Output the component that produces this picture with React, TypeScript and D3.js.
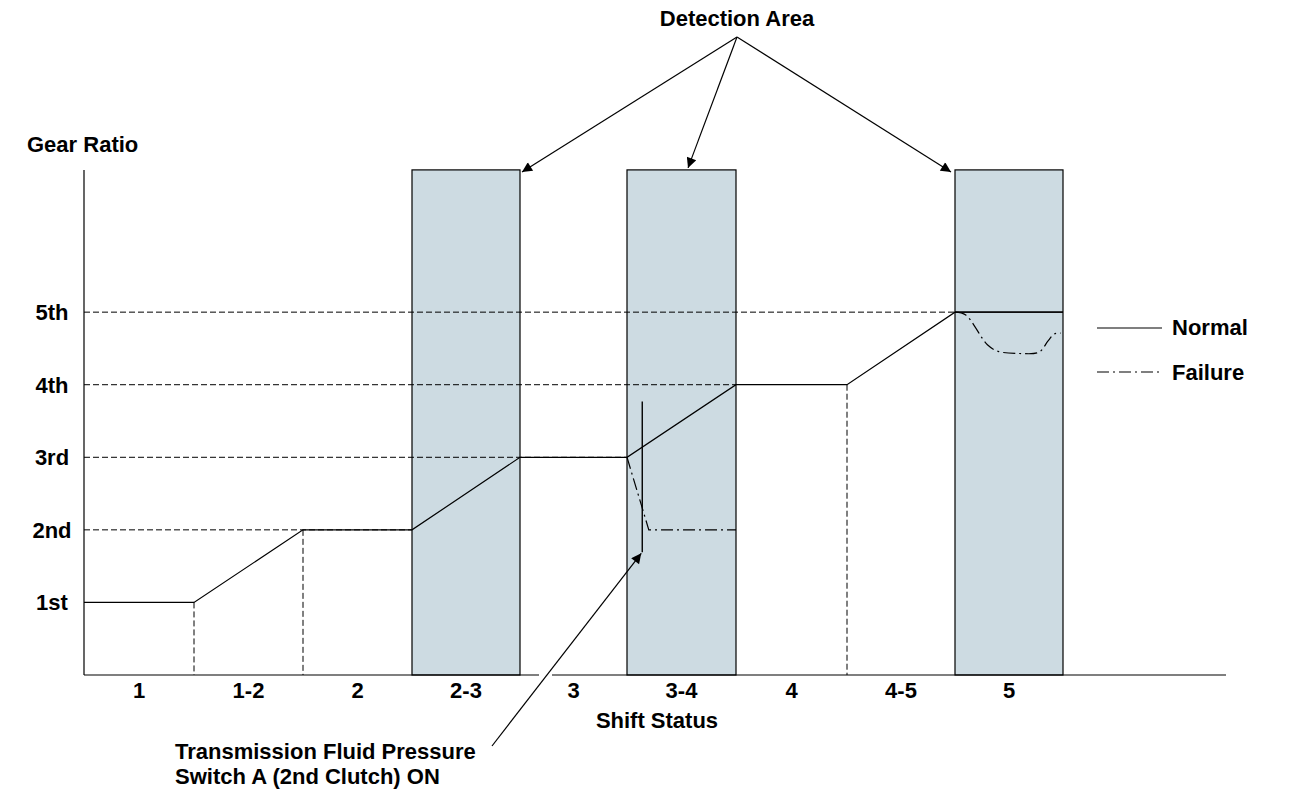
import React from "react";
import * as d3 from "d3";

const shiftLabels = ["1", "1-2", "2", "2-3", "3", "3-4", "4", "4-5", "5"];
const gearLabels = ["1st", "2nd", "3rd", "4th", "5th"];
const detectionBands = [3, 5, 8]; // band index of shaded detection areas
const normalX = [0, 1, 2, 3, 4, 5, 6, 7, 8, 9];
const normalY = [1, 1, 2, 2, 3, 3, 4, 4, 5, 5];
const failure34X = [5, 5.2, 6];
const failure34Y = [3, 2, 2];
const failure5X = [8, 8.1, 8.3, 8.4, 8.6, 8.78, 8.86, 8.92, 8.98];
const failure5Y = [5, 4.96, 4.55, 4.46, 4.43, 4.45, 4.6, 4.7, 4.71];
const switchX = 5.14;
const switchY = [3.77, 1.69];
const gridEnds = [0, 3, 5, 6, 8]; // x where dashed guide ends for each gear
const dropLines = [1, 2, 7]; // vertical dashed drop lines

const W = 1292, H = 802;
const x = d3.scaleLinear()
  .domain([0, 1, 2, 3, 4, 5, 6, 7, 8, 9, 10.5])
  .range([84, 194, 303, 412, 520, 627, 736, 847, 955, 1063, 1226]);
const y = d3.scaleLinear().domain([0, 7]).range([675, 167]);
const FONT = "'Liberation Sans', Arial, sans-serif";

export default function App() {
  const line = d3.line<[number, number]>().x(d => x(d[0])).y(d => y(d[1]));
  const curve = d3.line<[number, number]>().x(d => x(d[0])).y(d => y(d[1])).curve(d3.curveCatmullRom);
  const normal = normalX.map((v, i) => [v, normalY[i]] as [number, number]);
  const f34 = failure34X.map((v, i) => [v, failure34Y[i]] as [number, number]);
  const f5 = failure5X.map((v, i) => [v, failure5Y[i]] as [number, number]);
  const top = y(6.96);
  const titleX = 737, titleY = 37;
  const arrowTargets: [number, number][] = [[x(4) + 2, top + 2], [x(5.56), top - 2], [x(8) - 4, top + 2]];
  const textStyle = { fontFamily: FONT, fontWeight: 700, fontSize: 22 } as const;
  return (
    <svg width={W} height={H} style={{ position: "absolute", left: 0, top: 0, background: "#fff" }}>
      <defs>
        <marker id="ah" viewBox="0 0 10 10" refX="10" refY="5" markerWidth="14" markerHeight="10" markerUnits="userSpaceOnUse" orient="auto">
          <path d="M0,0 L10,5 L0,10 z" fill="#000" />
        </marker>
      </defs>
      {/* detection areas */}
      {detectionBands.map(b => (
        <rect key={b} x={x(b)} y={top} width={x(b + 1) - x(b)} height={y(0) - top} fill="#cddbe2" stroke="#000" strokeWidth={1.2} />
      ))}
      {/* gear guides */}
      {gearLabels.map((g, i) => (
        i > 0 ? <line key={g} x1={x(0)} x2={x(gridEnds[i])} y1={y(i + 1)} y2={y(i + 1)} stroke="#000" strokeWidth={1} strokeDasharray="6 3" /> : null
      ))}
      <line x1={x(8)} x2={x(9)} y1={y(5)} y2={y(5)} stroke="#000" strokeWidth={1.2} />
      {dropLines.map(d => (
        <line key={d} x1={x(d)} x2={x(d)} y1={y(normalY[d])} y2={y(0)} stroke="#000" strokeWidth={1} strokeDasharray="6 3" />
      ))}
      {/* axes */}
      <line x1={x(0)} x2={x(0)} y1={top} y2={y(0)} stroke="#000" strokeWidth={1.2} />
      <line x1={x(0)} x2={539} y1={y(0)} y2={y(0)} stroke="#000" strokeWidth={1.2} />
      <line x1={552} x2={x(10.5)} y1={y(0)} y2={y(0)} stroke="#000" strokeWidth={1.2} />
      {gearLabels.map((g, i) => (
        <text key={g} x={52} y={y(i + 1) + 8} textAnchor="middle" style={textStyle}>{g}</text>
      ))}
      {shiftLabels.map((s, i) => (
        <text key={s} x={(x(i) + x(i + 1)) / 2} y={698} textAnchor="middle" style={textStyle}>{s}</text>
      ))}
      <text x={27} y={152} style={textStyle}>Gear Ratio</text>
      <text x={657} y={728} textAnchor="middle" style={textStyle}>Shift Status</text>
      {/* normal line */}
      <path d={line(normal) || ""} fill="none" stroke="#000" strokeWidth={1.2} />
      {/* failure lines */}
      <path d={line(f34) || ""} fill="none" stroke="#000" strokeWidth={1.2} strokeDasharray="12 4 2 4" />
      <path d={curve(f5) || ""} fill="none" stroke="#000" strokeWidth={1.2} strokeDasharray="12 4 2 4" />
      {/* pressure switch */}
      <line x1={x(switchX)} x2={x(switchX)} y1={y(switchY[0])} y2={y(switchY[1])} stroke="#000" strokeWidth={1.4} />
      <line x1={492} y1={746} x2={x(switchX) - 1} y2={y(switchY[1]) + 1} stroke="#000" strokeWidth={1.2} markerEnd="url(#ah)" />
      <text x={175} y={759} style={textStyle}>Transmission Fluid Pressure</text>
      <text x={175} y={784} style={textStyle}>Switch A (2nd Clutch) ON</text>
      {/* detection title & arrows */}
      <text x={titleX} y={26} textAnchor="middle" style={textStyle}>Detection Area</text>
      {arrowTargets.map((t, i) => (
        <line key={i} x1={titleX} y1={titleY} x2={t[0]} y2={t[1]} stroke="#000" strokeWidth={1.2} markerEnd="url(#ah)" />
      ))}
      {/* legend */}
      <line x1={1097} x2={1162} y1={328} y2={328} stroke="#000" strokeWidth={1.2} />
      <text x={1172} y={335} style={textStyle}>Normal</text>
      <line x1={1097} x2={1162} y1={372} y2={372} stroke="#000" strokeWidth={1.2} strokeDasharray="12 4 2 4" />
      <text x={1172} y={380} style={textStyle}>Failure</text>
    </svg>
  );
}
